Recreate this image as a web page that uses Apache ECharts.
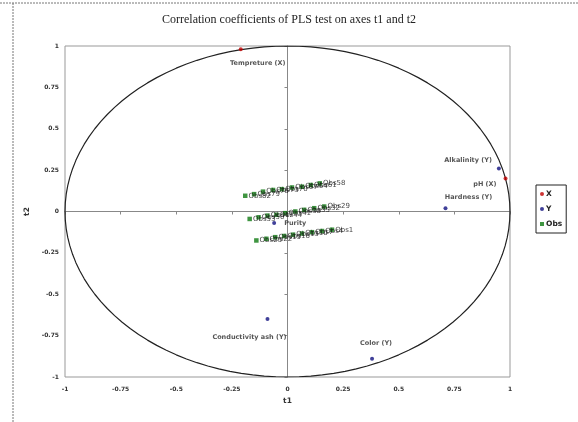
<!DOCTYPE html>
<html><head><meta charset="utf-8">
<script src="https://cdn.jsdelivr.net/npm/echarts@6/dist/echarts.min.js"></script>
<style>html,body{margin:0;padding:0;background:#fff}#c{width:578px;height:422px}</style>
</head><body><div id="c"></div>
<script>
// ---- data ----
var title = 'Correlation coefficients of PLS test on axes t1 and t2';
var tickValues = [-1, -0.75, -0.5, -0.25, 0, 0.25, 0.5, 0.75, 1];

var xNames = ['Tempreture (X)', 'pH (X)'];
var xT1 = [-0.21, 0.98];
var xT2 = [0.98, 0.20];

var yNames = ['Alkalinity (Y)', 'Hardness (Y)', 'Purity', 'Conductivity ash (Y)', 'Color (Y)'];
var yT1 = [0.95, 0.71, -0.06, -0.09, 0.38];
var yT2 = [0.26, 0.02, -0.07, -0.65, -0.89];

// observations: three bands (names, t1, t2)
var obsTopNames = ['Obs82','Obs79','Obs76','Obs73','Obs70','Obs67','Obs64','Obs61','Obs58'];
var obsTopT1 = [-0.19, -0.15, -0.11, -0.065, -0.025, 0.02, 0.065, 0.105, 0.145];
var obsTopT2 = [0.095, 0.105, 0.12, 0.13, 0.135, 0.145, 0.15, 0.16, 0.17];

var obsMidNames = ['Obs53','Obs50','Obs47','Obs44','Obs41','Obs38','Obs35','Obs32','Obs29'];
var obsMidT1 = [-0.17, -0.13, -0.09, -0.05, -0.01, 0.035, 0.075, 0.12, 0.165];
var obsMidT2 = [-0.045, -0.035, -0.025, -0.02, -0.01, 0.0, 0.01, 0.02, 0.03];

var obsBotNames = ['Obs25','Obs22','Obs19','Obs16','Obs13','Obs10','Obs7','Obs4','Obs1'];
var obsBotT1 = [-0.14, -0.095, -0.055, -0.015, 0.025, 0.065, 0.11, 0.155, 0.2];
var obsBotT2 = [-0.175, -0.165, -0.155, -0.148, -0.14, -0.133, -0.125, -0.118, -0.11];

// ---- build ----
function pts(names, a, b) {
  return names.map(function (n, i) { return { name: n, value: [a[i], b[i]] }; });
}
// label placement for named variables (style only)
var labelPlace = {
  'Tempreture (X)': { position: 'bottom', offset: [17, 4] },
  'pH (X)': { position: 'left', offset: [-2, 6] },
  'Alkalinity (Y)': { position: 'left', offset: [0, -8] },
  'Hardness (Y)': { position: 'top', offset: [23, 0] },
  'Purity': { position: 'right', offset: [3, 0] },
  'Conductivity ash (Y)': { position: 'bottom', offset: [-18, 8] },
  'Color (Y)': { position: 'top', offset: [4, -5] }
};
function withLabels(arr) {
  return arr.map(function (d) {
    var p = labelPlace[d.name];
    if (p) d.label = { position: p.position, offset: p.offset };
    return d;
  });
}
var circle = [];
for (var k = 0; k <= 120; k++) {
  var th = k / 120 * Math.PI * 2;
  circle.push([Math.cos(th), Math.sin(th)]);
}
var varLabel = { show: true, formatter: '{b}', fontFamily: 'DejaVu Sans', fontSize: 6.5, fontWeight: 'bold', color: '#2a2a2a' };
var obsLabel = { show: true, formatter: '{b}', position: 'right', distance: 1, fontFamily: 'DejaVu Sans', fontSize: 7, color: '#111' };
var axLabel = { fontFamily: 'DejaVu Sans', fontSize: 6, fontWeight: 'bold', color: '#333' };

var chart = echarts.init(document.getElementById('c'));
chart.setOption({
  animation: false,
  backgroundColor: '#fff',
  title: { text: title, left: 'center', top: 9, textStyle: { fontFamily: 'Liberation Serif', fontSize: 12, fontWeight: 'normal', color: '#222' } },
  graphic: [
    { type: 'line', shape: { x1: 0, y1: 3, x2: 578, y2: 3 }, style: { stroke: '#777', lineDash: [2, 1], lineWidth: 1 } },
    { type: 'line', shape: { x1: 13, y1: 3, x2: 13, y2: 422 }, style: { stroke: '#777', lineDash: [2, 1], lineWidth: 1 } }
  ],
  legend: {
    orient: 'vertical', left: 536, top: 185,
    padding: [5, 4, 5, 4], itemGap: 7, itemWidth: 4, itemHeight: 4,
    borderColor: '#222', borderWidth: 1,
    textStyle: { fontFamily: 'DejaVu Sans', fontSize: 7.5, fontWeight: 'bold', color: '#222', padding: [0, 0, 0, -3] },
    data: [
      { name: 'X', icon: 'circle' },
      { name: 'Y', icon: 'circle' },
      { name: 'Obs', icon: 'rect' }
    ]
  },
  grid: { left: 65, right: 68, top: 46, bottom: 45, show: true, borderColor: '#999', borderWidth: 1 },
  xAxis: [
    { type: 'value', min: -1, max: 1, interval: 0.25, position: 'bottom',
      name: 't1', nameLocation: 'middle', nameGap: 19,
      nameTextStyle: { fontFamily: 'DejaVu Sans', fontSize: 7.5, fontWeight: 'bold', color: '#333' },
      axisLine: { show: false, onZero: false }, axisTick: { show: false },
      axisLabel: Object.assign({ margin: 9, formatter: function (v) { return tickValues.indexOf(v) >= 0 ? String(v) : ''; } }, axLabel),
      splitLine: { show: false } },
    { type: 'value', min: -1, max: 1, interval: 0.25, position: 'bottom',
      axisLine: { show: true, onZero: true, lineStyle: { color: '#888', width: 1 } },
      axisTick: { show: true, inside: false, length: 3, lineStyle: { color: '#888' } },
      axisLabel: { show: false }, splitLine: { show: false } }
  ],
  yAxis: [
    { type: 'value', min: -1, max: 1, interval: 0.25, position: 'left',
      name: 't2', nameLocation: 'middle', nameGap: 30, nameRotate: 90,
      nameTextStyle: { fontFamily: 'DejaVu Sans', fontSize: 7.5, fontWeight: 'bold', color: '#333' },
      axisLine: { show: false, onZero: false }, axisTick: { show: false },
      axisLabel: Object.assign({ margin: 6 }, axLabel),
      splitLine: { show: false } },
    { type: 'value', min: -1, max: 1, interval: 0.25, position: 'left',
      axisLine: { show: true, onZero: true, lineStyle: { color: '#888', width: 1 } },
      axisTick: { show: true, length: 3, lineStyle: { color: '#888' } },
      axisLabel: { show: false }, splitLine: { show: false } }
  ],
  series: [
    { type: 'line', data: circle, showSymbol: false, silent: true, smooth: false,
      lineStyle: { color: '#222', width: 1.2 }, xAxisIndex: 0, yAxisIndex: 0, z: 1 },
    { name: 'Obs', type: 'scatter', symbol: 'rect', symbolSize: 4.5,
      itemStyle: { color: '#0f7a12' }, label: obsLabel,
      data: pts(obsBotNames, obsBotT1, obsBotT2).concat(pts(obsMidNames, obsMidT1, obsMidT2), pts(obsTopNames, obsTopT1, obsTopT2)), z: 3 },
    { name: 'X', type: 'scatter', symbol: 'circle', symbolSize: 4,
      itemStyle: { color: '#c00000' }, label: varLabel,
      data: withLabels(pts(xNames, xT1, xT2)), z: 4 },
    { name: 'Y', type: 'scatter', symbol: 'circle', symbolSize: 4,
      itemStyle: { color: '#101080' }, label: varLabel,
      data: withLabels(pts(yNames, yT1, yT2)), z: 4 }
  ]
});
</script></body></html>
